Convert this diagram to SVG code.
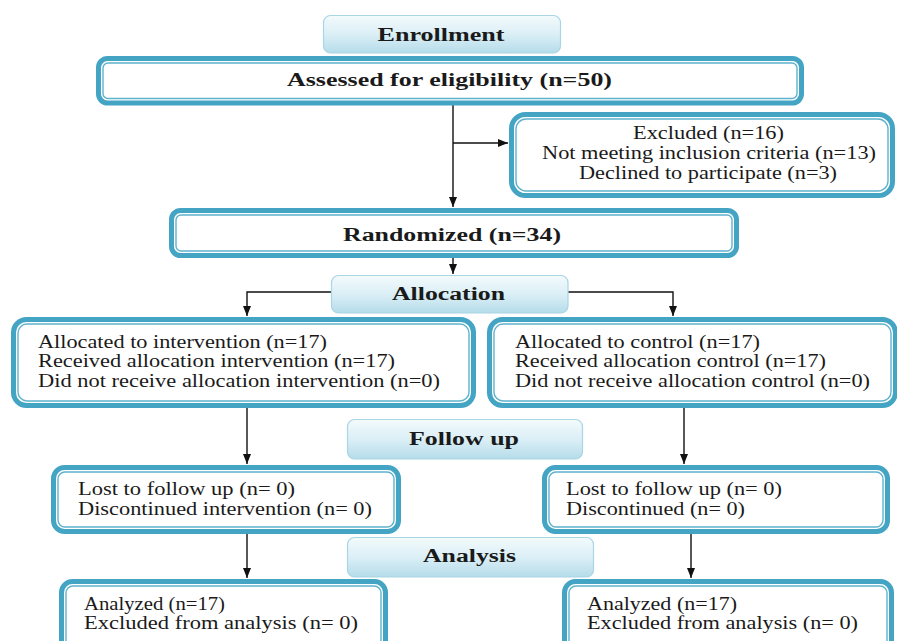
<svg xmlns="http://www.w3.org/2000/svg" width="897" height="641" viewBox="0 0 897 641">
<defs>
<linearGradient id="lg" x1="0" y1="0" x2="0" y2="1">
<stop offset="0" stop-color="#f3fafc"/>
<stop offset="0.5" stop-color="#dbeff6"/>
<stop offset="1" stop-color="#b5dcea"/>
</linearGradient>
<marker id="ah" markerUnits="userSpaceOnUse" markerWidth="10" markerHeight="10" viewBox="0 0 10 10" refX="10" refY="5" orient="auto">
<path d="M0,1 L10,5 L0,9 Z" fill="#111"/>
</marker>
<style>
.ob{fill:#fff;stroke:#43a4c4;stroke-width:5}
.ib{fill:none;stroke:#5fb2cd;stroke-width:1.4}
.lb{fill:url(#lg);stroke:#a9d5e4;stroke-width:1.2}
.t{font-family:"Liberation Serif","Times New Roman",serif;font-size:18.5px;fill:#1a1a1a}
.h{font-family:"Liberation Serif","Times New Roman",serif;font-size:18.5px;font-weight:bold;fill:#1a1a1a}
.c{fill:none;stroke:#111;stroke-width:1.4}
</style>
</defs>

<g id="connectors">
<line class="c" x1="453" y1="105" x2="453" y2="207" marker-end="url(#ah)"/>
<line class="c" x1="453" y1="143" x2="508" y2="143" marker-end="url(#ah)"/>
<line class="c" x1="453" y1="258" x2="453" y2="274" marker-end="url(#ah)"/>
<polyline class="c" points="331,292 247,292 247,316" marker-end="url(#ah)"/>
<polyline class="c" points="568,292 673,292 673,316" marker-end="url(#ah)"/>
<line class="c" x1="247" y1="408" x2="247" y2="464" marker-end="url(#ah)"/>
<line class="c" x1="684" y1="408" x2="684" y2="464" marker-end="url(#ah)"/>
<line class="c" x1="247" y1="534" x2="247" y2="578" marker-end="url(#ah)"/>
<line class="c" x1="691" y1="534" x2="691" y2="578" marker-end="url(#ah)"/>
</g>

<g id="enrollment">
<rect class="lb" x="323.5" y="15.5" width="237" height="37.5" rx="7"/>
<text class="h" x="441" y="41" text-anchor="middle" textLength="127" lengthAdjust="spacingAndGlyphs">Enrollment</text>
</g>

<g id="assessed">
<rect class="ob" x="98.5" y="58.5" width="703" height="44.5" rx="9"/>
<rect class="ib" x="103" y="63" width="694" height="35.5" rx="5"/>
<text class="h" x="449.5" y="86" text-anchor="middle" textLength="325" lengthAdjust="spacingAndGlyphs">Assessed for eligibility (n=50)</text>
</g>

<g id="excluded">
<rect class="ob" x="511.5" y="114.5" width="381" height="81" rx="14"/>
<rect class="ib" x="516" y="119" width="372" height="72" rx="10"/>
<text class="t" x="708.5" y="139" text-anchor="middle" textLength="151" lengthAdjust="spacingAndGlyphs">Excluded (n=16)</text>
<text class="t" x="709" y="159" text-anchor="middle" textLength="334" lengthAdjust="spacingAndGlyphs">Not meeting inclusion criteria (n=13)</text>
<text class="t" x="708" y="179" text-anchor="middle" textLength="258" lengthAdjust="spacingAndGlyphs">Declined to participate (n=3)</text>
</g>

<g id="randomized">
<rect class="ob" x="171.5" y="210.5" width="565" height="45" rx="9"/>
<rect class="ib" x="176" y="215" width="556" height="36" rx="5"/>
<text class="h" x="452" y="241" text-anchor="middle" textLength="218" lengthAdjust="spacingAndGlyphs">Randomized (n=34)</text>
</g>

<g id="allocation">
<rect class="lb" x="331.5" y="275.5" width="236.5" height="37.5" rx="7"/>
<text class="h" x="448.5" y="300" text-anchor="middle" textLength="113" lengthAdjust="spacingAndGlyphs">Allocation</text>
</g>

<g id="alloc-intervention">
<rect class="ob" x="13.5" y="319.5" width="460" height="86" rx="13"/>
<rect class="ib" x="18" y="324" width="451" height="77" rx="9"/>
<text class="t" x="38" y="348" textLength="289" lengthAdjust="spacingAndGlyphs">Allocated to intervention (n=17)</text>
<text class="t" x="38" y="367" textLength="357" lengthAdjust="spacingAndGlyphs">Received allocation intervention (n=17)</text>
<text class="t" x="38" y="387" textLength="402" lengthAdjust="spacingAndGlyphs">Did not receive allocation intervention (n=0)</text>
</g>

<g id="alloc-control">
<rect class="ob" x="489.5" y="319.5" width="406" height="86" rx="13"/>
<rect class="ib" x="494" y="324" width="397" height="77" rx="9"/>
<text class="t" x="515" y="348" textLength="245" lengthAdjust="spacingAndGlyphs">Allocated to control (n=17)</text>
<text class="t" x="515" y="367" textLength="311" lengthAdjust="spacingAndGlyphs">Received allocation control (n=17)</text>
<text class="t" x="515" y="387" textLength="355" lengthAdjust="spacingAndGlyphs">Did not receive allocation control (n=0)</text>
</g>

<g id="followup">
<rect class="lb" x="347.5" y="419.5" width="235" height="39.5" rx="7"/>
<text class="h" x="464" y="445" text-anchor="middle" textLength="110" lengthAdjust="spacingAndGlyphs">Follow up</text>
</g>

<g id="lost-intervention">
<rect class="ob" x="53.5" y="467.5" width="345" height="64" rx="11"/>
<rect class="ib" x="58" y="472" width="336" height="55" rx="7"/>
<text class="t" x="78" y="495" textLength="217" lengthAdjust="spacingAndGlyphs">Lost to follow up (n= 0)</text>
<text class="t" x="78" y="515" textLength="294" lengthAdjust="spacingAndGlyphs">Discontinued intervention (n= 0)</text>
</g>

<g id="lost-control">
<rect class="ob" x="544.5" y="467.5" width="343" height="64" rx="11"/>
<rect class="ib" x="549" y="472" width="334" height="55" rx="7"/>
<text class="t" x="566" y="495" textLength="216" lengthAdjust="spacingAndGlyphs">Lost to follow up (n= 0)</text>
<text class="t" x="566" y="515" textLength="179" lengthAdjust="spacingAndGlyphs">Discontinued (n= 0)</text>
</g>

<g id="analysis">
<rect class="lb" x="347.5" y="537.5" width="246" height="39.5" rx="7"/>
<text class="h" x="469.5" y="562" text-anchor="middle" textLength="93" lengthAdjust="spacingAndGlyphs">Analysis</text>
</g>

<g id="analyzed-intervention">
<rect class="ob" x="61.5" y="581.5" width="324" height="70" rx="11"/>
<rect class="ib" x="66" y="586" width="315" height="61" rx="7"/>
<text class="t" x="84" y="610" textLength="141" lengthAdjust="spacingAndGlyphs">Analyzed (n=17)</text>
<text class="t" x="84" y="629" textLength="274" lengthAdjust="spacingAndGlyphs">Excluded from analysis (n= 0)</text>
</g>

<g id="analyzed-control">
<rect class="ob" x="564.5" y="581.5" width="327" height="70" rx="11"/>
<rect class="ib" x="569" y="586" width="318" height="61" rx="7"/>
<text class="t" x="587" y="610" textLength="150" lengthAdjust="spacingAndGlyphs">Analyzed (n=17)</text>
<text class="t" x="587" y="629" textLength="271" lengthAdjust="spacingAndGlyphs">Excluded from analysis (n= 0)</text>
</g>
</svg>
